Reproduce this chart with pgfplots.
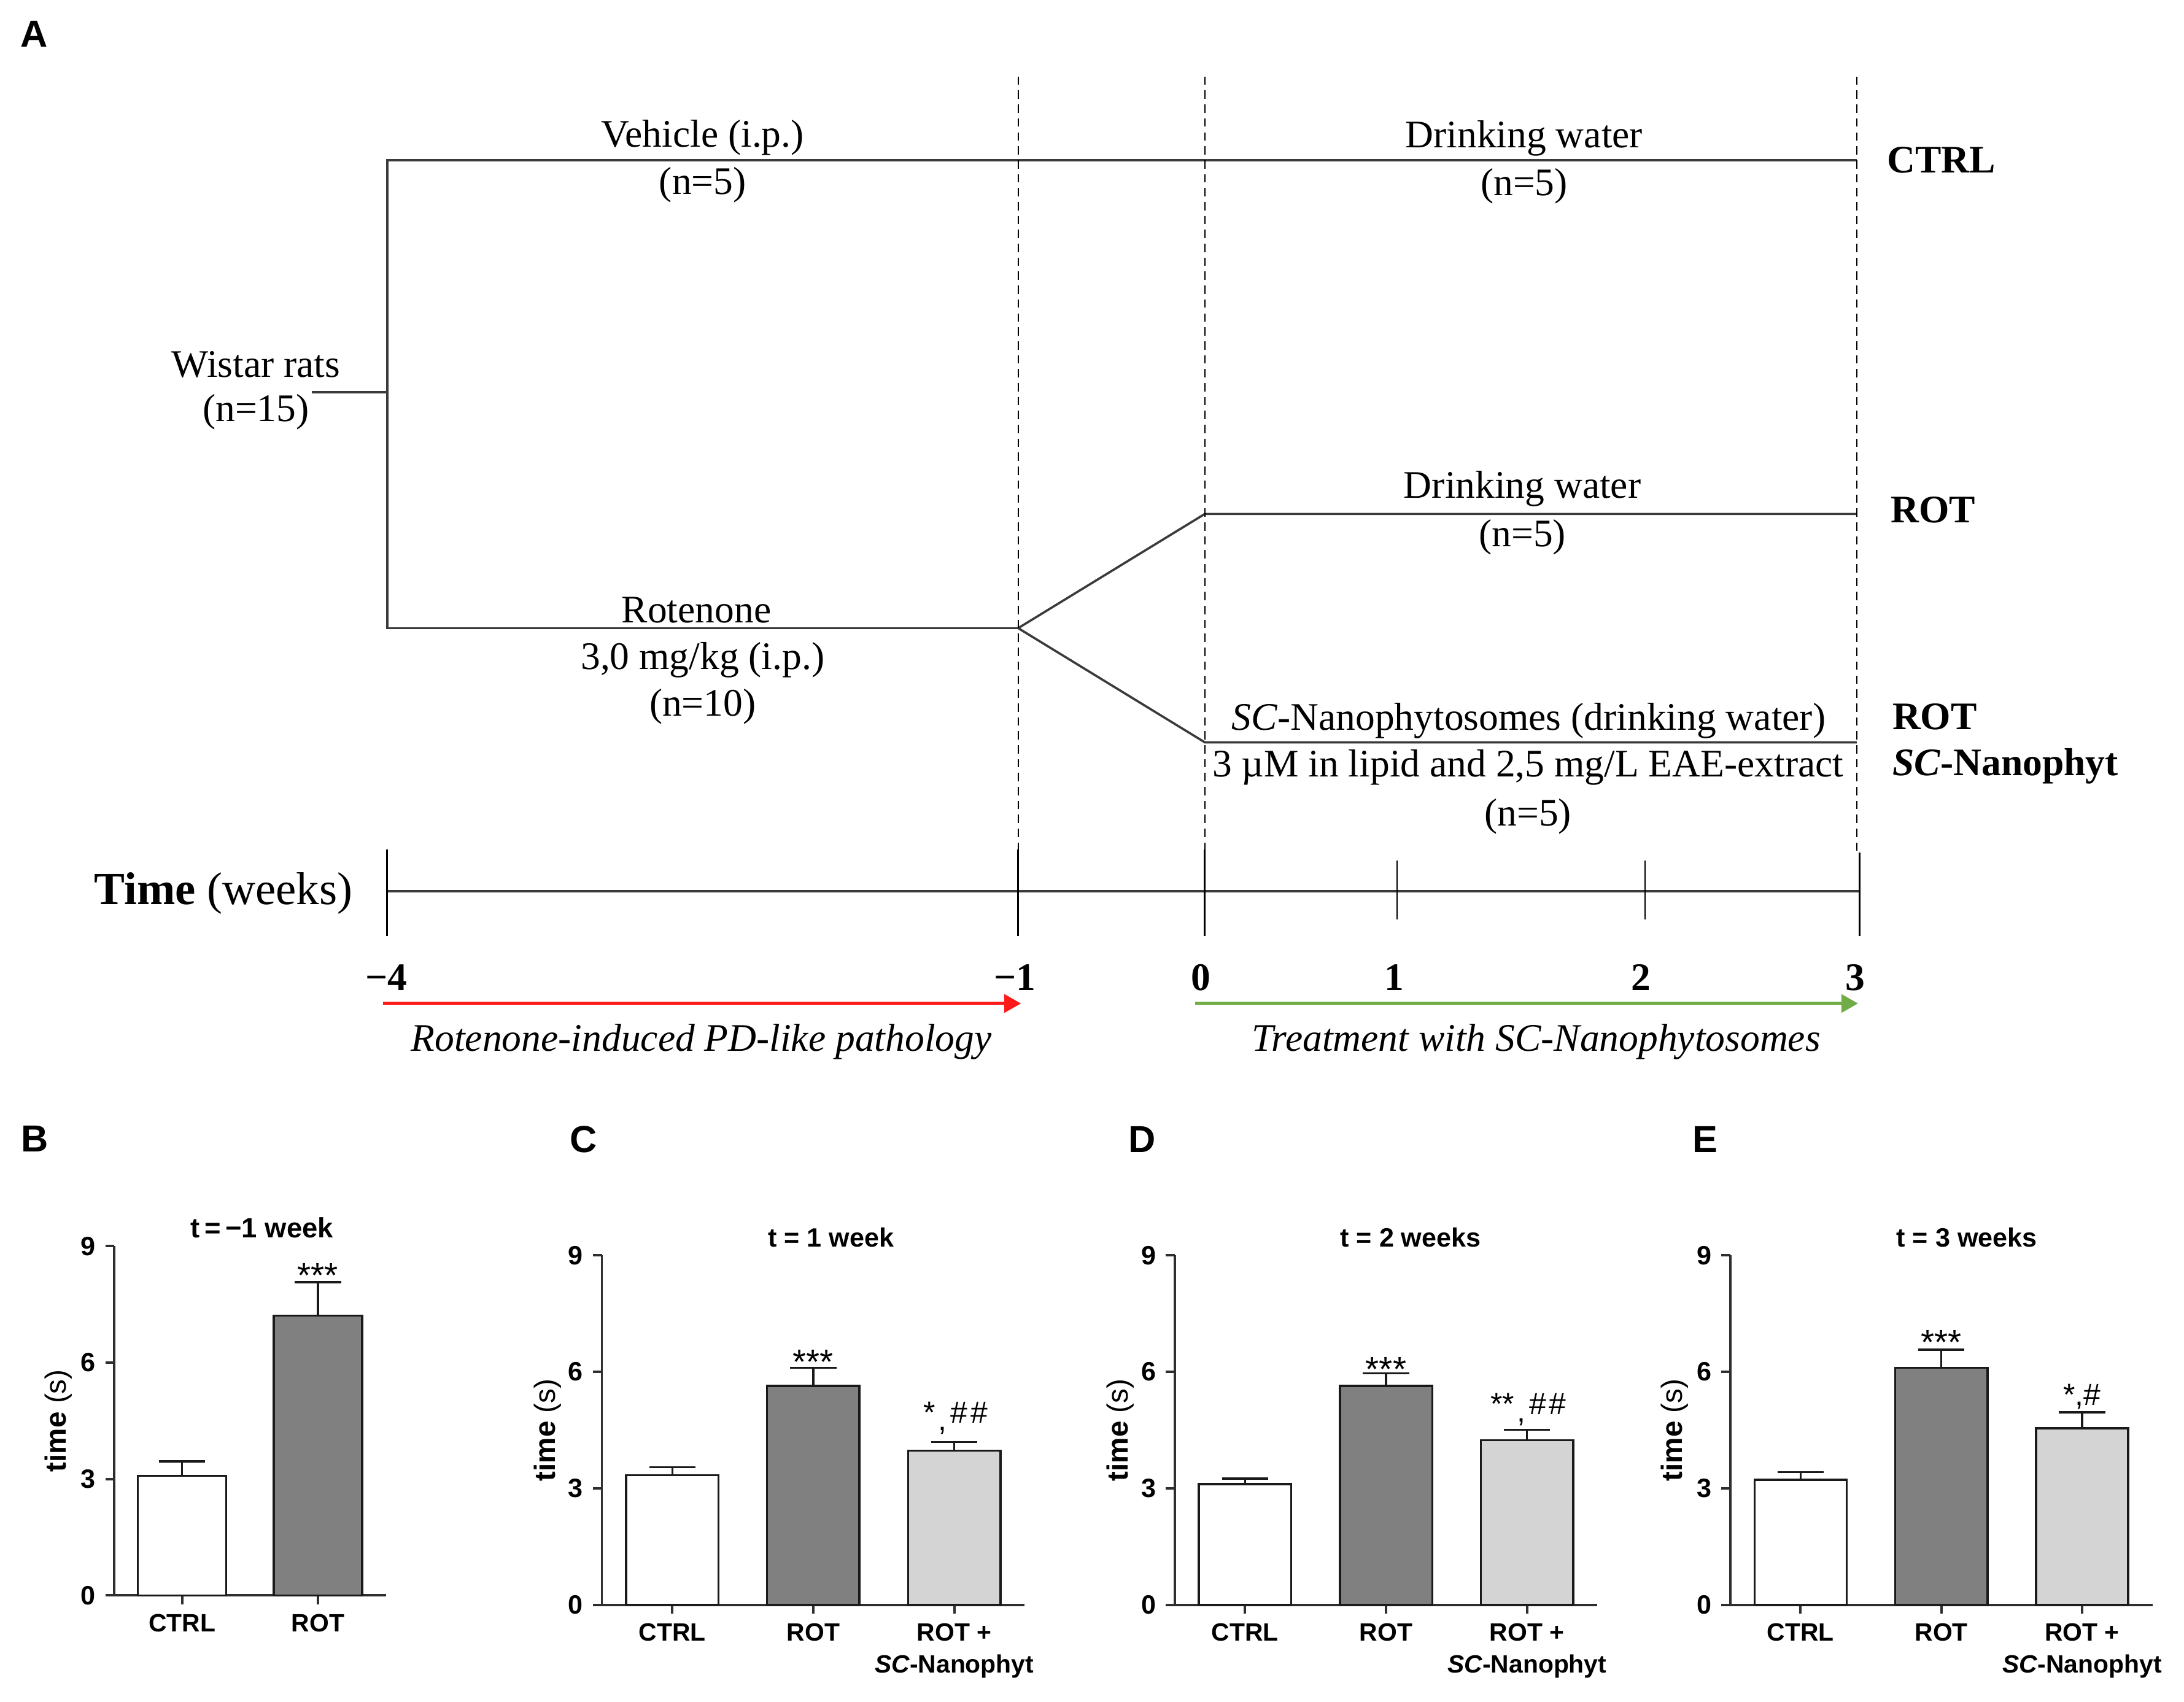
\documentclass[border=0pt]{standalone}
\usepackage{fontspec}
\setmainfont{Liberation Serif}
\setsansfont{Liberation Sans}
\usepackage{pgfplots}
\pgfplotsset{compat=1.18}
\usetikzlibrary{arrows.meta}
\definecolor{lineA}{HTML}{3A3A3A}
\definecolor{axg}{HTML}{2E2E2E}
\definecolor{rotgray}{HTML}{808080}
\definecolor{scgray}{HTML}{D4D4D4}
\definecolor{arrred}{HTML}{FF1A1A}
\definecolor{arrgreen}{HTML}{70AD47}
\newcommand{\fA}{\fontsize{14}{16.8}\selectfont}
\newcommand{\fN}{\fontsize{14}{16.8}\selectfont\bfseries}
\tikzset{tx/.style={inner sep=0pt, text=black}}
\pgfplotsset{
  bars/.style={
    scale only axis, height=125.5pt,
    ymin=0, ymax=9, ytick={0,3,6,9}, yticklabels={0,3,6,9},
    axis lines*=left,
    axis line style={line width=0.85pt, axg, -},
    x axis line style={-}, y axis line style={-},
    tick align=outside, major tick length=3.2pt,
    major tick style={line width=0.85pt, axg},
    xticklabel style={font=\sffamily\bfseries\fontsize{9}{11.4}\selectfont, align=center, text=black},
    yticklabel style={font=\sffamily\bfseries\fontsize{9.5}{11}\selectfont, text=black},
    ylabel={\textbf{time} (s)},
    every axis y label/.style={at={(axis description cs:-0.128,0.5)}, rotate=90, anchor=center, font=\sffamily\fontsize{10.5}{12}\selectfont},
    ybar, bar width=0.655,
    clip=false,
    /pgf/number format/assume math mode=true,
  },
  mybar/.style={bar shift=0pt, draw=black!90, line width=0.75pt,
    error bars/y dir=plus, error bars/y explicit,
    error bars/error bar style={line width=0.75pt, black!90},
    error bars/error mark options={line width=0.75pt, black!90, mark size=8.3pt, rotate=90}},
  ttl/.style={every axis title/.style={at={(axis description cs:#1,1)}, anchor=base, yshift=3pt, font=\sffamily\bfseries\fontsize{9.5}{11}\selectfont}},
}
\tikzset{annot/.style={inner sep=0pt, font=\sffamily\fontsize{12.5}{14}\selectfont, anchor=north}}
\begin{document}
\begin{tikzpicture}
\useasboundingbox (0,0) rectangle (784pt,611pt);
% ---------------- Panel A (schematic) ----------------
\begin{axis}[at={(0pt,0pt)}, anchor=south west, scale only axis, width=784pt, height=611pt,
  xmin=0, xmax=1568, ymin=0, ymax=1222, y dir=reverse, hide axis, clip=false]
% tree
\addplot[lineA, line width=0.8pt] coordinates {(1333,115) (278,115) (278,451) (731,451)};
\addplot[lineA, line width=0.8pt] coordinates {(224,281.5) (278,281.5)};
\addplot[lineA, line width=0.8pt] coordinates {(1333,369) (865,369) (731,451) (865,533) (1333,533)};
% dashed verticals
\addplot[black, line width=0.5pt, dash pattern=on 3pt off 2pt] coordinates {(731,55) (731,610)};
\addplot[black, line width=0.5pt, dash pattern=on 3pt off 2pt] coordinates {(865,55) (865,610)};
\addplot[black, line width=0.5pt, dash pattern=on 3pt off 2pt] coordinates {(1333,55) (1333,612)};
% timeline
\addplot[lineA, line width=0.9pt] coordinates {(278,640) (1335,640)};
\addplot[black, line width=0.6pt] coordinates {(278,610) (278,672)};
\addplot[black, line width=0.6pt] coordinates {(731,610) (731,672)};
\addplot[black, line width=0.6pt] coordinates {(865,610) (865,672)};
\addplot[black, line width=0.6pt] coordinates {(1003,618) (1003,660)};
\addplot[black, line width=0.6pt] coordinates {(1181,618) (1181,660)};
\addplot[black, line width=0.6pt] coordinates {(1335,612) (1335,672)};
% arrows
\addplot[arrred, line width=1.1pt, -{Triangle[length=6pt,width=6.5pt]}] coordinates {(275,720.5) (733,720.5)};
\addplot[arrgreen, line width=1.1pt, -{Triangle[length=6pt,width=6.5pt]}] coordinates {(858,720.5) (1334,720.5)};
% texts left
\node[tx, font=\fA] at (axis cs:504.5,98.7) {Vehicle (i.p.)};
\node[tx, font=\fA] at (axis cs:504.5,132.6) {(n=5)};
\node[tx, font=\fA] at (axis cs:183.7,261.6) {Wistar rats};
\node[tx, font=\fA] at (axis cs:183.7,296) {(n=15)};
\node[tx, font=\fA] at (axis cs:500,438) {Rotenone};
\node[tx, font=\fA] at (axis cs:504.5,474) {3,0 mg/kg (i.p.)};
\node[tx, font=\fA] at (axis cs:504.5,507.5) {(n=10)};
% texts right
\node[tx, font=\fA] at (axis cs:1094.2,99.2) {Drinking water};
\node[tx, font=\fA] at (axis cs:1094.2,133.8) {(n=5)};
\node[tx, font=\fA] at (axis cs:1093,351) {Drinking water};
\node[tx, font=\fA] at (axis cs:1093,385.6) {(n=5)};
\node[tx, font=\fA] at (axis cs:1097.5,517.5) {\textit{SC}-Nanophytosomes (drinking water)};
\node[tx, font=\fA] at (axis cs:1097,551) {3 µM in lipid and 2,5 mg/L EAE-extract};
\node[tx, font=\fA] at (axis cs:1097,586.3) {(n=5)};
\node[tx, font=\fN, anchor=west] at (axis cs:1354.5,114.9) {CTRL};
\node[tx, font=\fN, anchor=west] at (axis cs:1357.2,366) {ROT};
\node[tx, font=\fN, anchor=west] at (axis cs:1358.3,514.7) {ROT};
\node[tx, font=\fN, anchor=west] at (axis cs:1358.3,550) {\textit{SC}-Nanophyt};
% timeline labels
\node[tx, font=\fontsize{16.5}{19}\selectfont] at (axis cs:160.4,641.6) {\textbf{Time} (weeks)};
\node[tx, font=\fN] at (axis cs:277.3,702) {−4};
\node[tx, font=\fN] at (axis cs:728.6,702) {−1};
\node[tx, font=\fN] at (axis cs:862,702) {0};
\node[tx, font=\fN] at (axis cs:1001,702) {1};
\node[tx, font=\fN] at (axis cs:1178,702) {2};
\node[tx, font=\fN] at (axis cs:1332,702) {3};
\node[tx, font=\fA\itshape] at (axis cs:503.5,748) {Rotenone-induced PD-like pathology};
\node[tx, font=\fA\itshape] at (axis cs:1103,748) {Treatment with SC-Nanophytosomes};
% panel letters
\node[tx, font=\sffamily\bfseries\fontsize{13.5}{16}\selectfont] at (axis cs:24.3,24.3) {A};
\node[tx, font=\sffamily\bfseries\fontsize{13.5}{16}\selectfont] at (axis cs:25,817.5) {B};
\node[tx, font=\sffamily\bfseries\fontsize{13.5}{16}\selectfont] at (axis cs:419,818) {C};
\node[tx, font=\sffamily\bfseries\fontsize{13.5}{16}\selectfont] at (axis cs:820,818) {D};
\node[tx, font=\sffamily\bfseries\fontsize{13.5}{16}\selectfont] at (axis cs:1224,818) {E};
\end{axis}
% ---------------- Panel B ----------------
\begin{axis}[bars, at={(41pt,38.25pt)}, anchor=south west, width=97.5pt, height=125.4pt,
  xmin=-0.5, xmax=1.5, xtick={0,1}, xticklabels={CTRL,ROT}, bar width=0.65,
  ttl=0.544, title={t\,=\,−1 week},
  every axis title/.append style={font=\sffamily\bfseries\fontsize{10}{12}\selectfont},
  every axis y label/.append style={at={(axis description cs:-0.205,0.5)}}]
\addplot[fill=white, mybar] coordinates {(0,3.08) +- (0,0.37)};
\addplot[fill=rotgray, mybar] coordinates {(1,7.21) +- (0,0.86)};
\node[annot] at (axis cs:1,8.57) {***};
\end{axis}
% ---------------- Panel C ----------------
\begin{axis}[bars, at={(216.05pt,34.85pt)}, anchor=south west, width=151.8pt,
  xmin=-0.5, xmax=2.5, xtick={0,1,2}, xticklabels={CTRL,ROT,{ROT +\\\textit{SC}-Nanophyt}},
  ttl=0.542, title={t = 1 week}]
\addplot[fill=white, mybar] coordinates {(0,3.34) +- (0,0.20)};
\addplot[fill=rotgray, mybar] coordinates {(1,5.64) +- (0,0.46)};
\addplot[fill=scgray, mybar] coordinates {(2,3.97) +- (0,0.22)};
\node[annot] at (axis cs:1,6.58) {***};
\node[annot, font=\sffamily\fontsize{11}{12}\selectfont] at (axis cs:2.01,5.24) {*\hspace{0.08em}\raisebox{-0.45ex}{,}\hspace{0.12em}\#\hspace{0.1em}\#};
\end{axis}
% ---------------- Panel D ----------------
\begin{axis}[bars, at={(421.65pt,34.85pt)}, anchor=south west, width=151.8pt,
  xmin=-0.5, xmax=2.5, xtick={0,1,2}, xticklabels={CTRL,ROT,{ROT +\\\textit{SC}-Nanophyt}},
  ttl=0.558, title={t = 2 weeks}]
\addplot[fill=white, mybar] coordinates {(0,3.11) +- (0,0.14)};
\addplot[fill=rotgray, mybar] coordinates {(1,5.64) +- (0,0.32)};
\addplot[fill=scgray, mybar] coordinates {(2,4.24) +- (0,0.27)};
\node[annot] at (axis cs:1,6.38) {***};
\node[annot, font=\sffamily\fontsize{11}{12}\selectfont] at (axis cs:2.01,5.46) {**\hspace{0.08em}\raisebox{-0.45ex}{,}\hspace{0.12em}\#\hspace{0.1em}\#};
\end{axis}
% ---------------- Panel E ----------------
\begin{axis}[bars, at={(621.1pt,34.85pt)}, anchor=south west, width=151.6pt,
  xmin=-0.5, xmax=2.5, xtick={0,1,2}, xticklabels={CTRL,ROT,{ROT +\\\textit{SC}-Nanophyt}},
  ttl=0.56, title={t = 3 weeks},
  every axis y label/.append style={at={(axis description cs:-0.131,0.5)}}]
\addplot[fill=white, mybar] coordinates {(0,3.22) +- (0,0.20)};
\addplot[fill=rotgray, mybar] coordinates {(1,6.10) +- (0,0.47)};
\addplot[fill=scgray, mybar] coordinates {(2,4.55) +- (0,0.41)};
\node[annot] at (axis cs:1,7.08) {***};
\node[annot, font=\sffamily\fontsize{11}{12}\selectfont] at (axis cs:2,5.69) {*,\#};
\end{axis}
\end{tikzpicture}
\end{document}
